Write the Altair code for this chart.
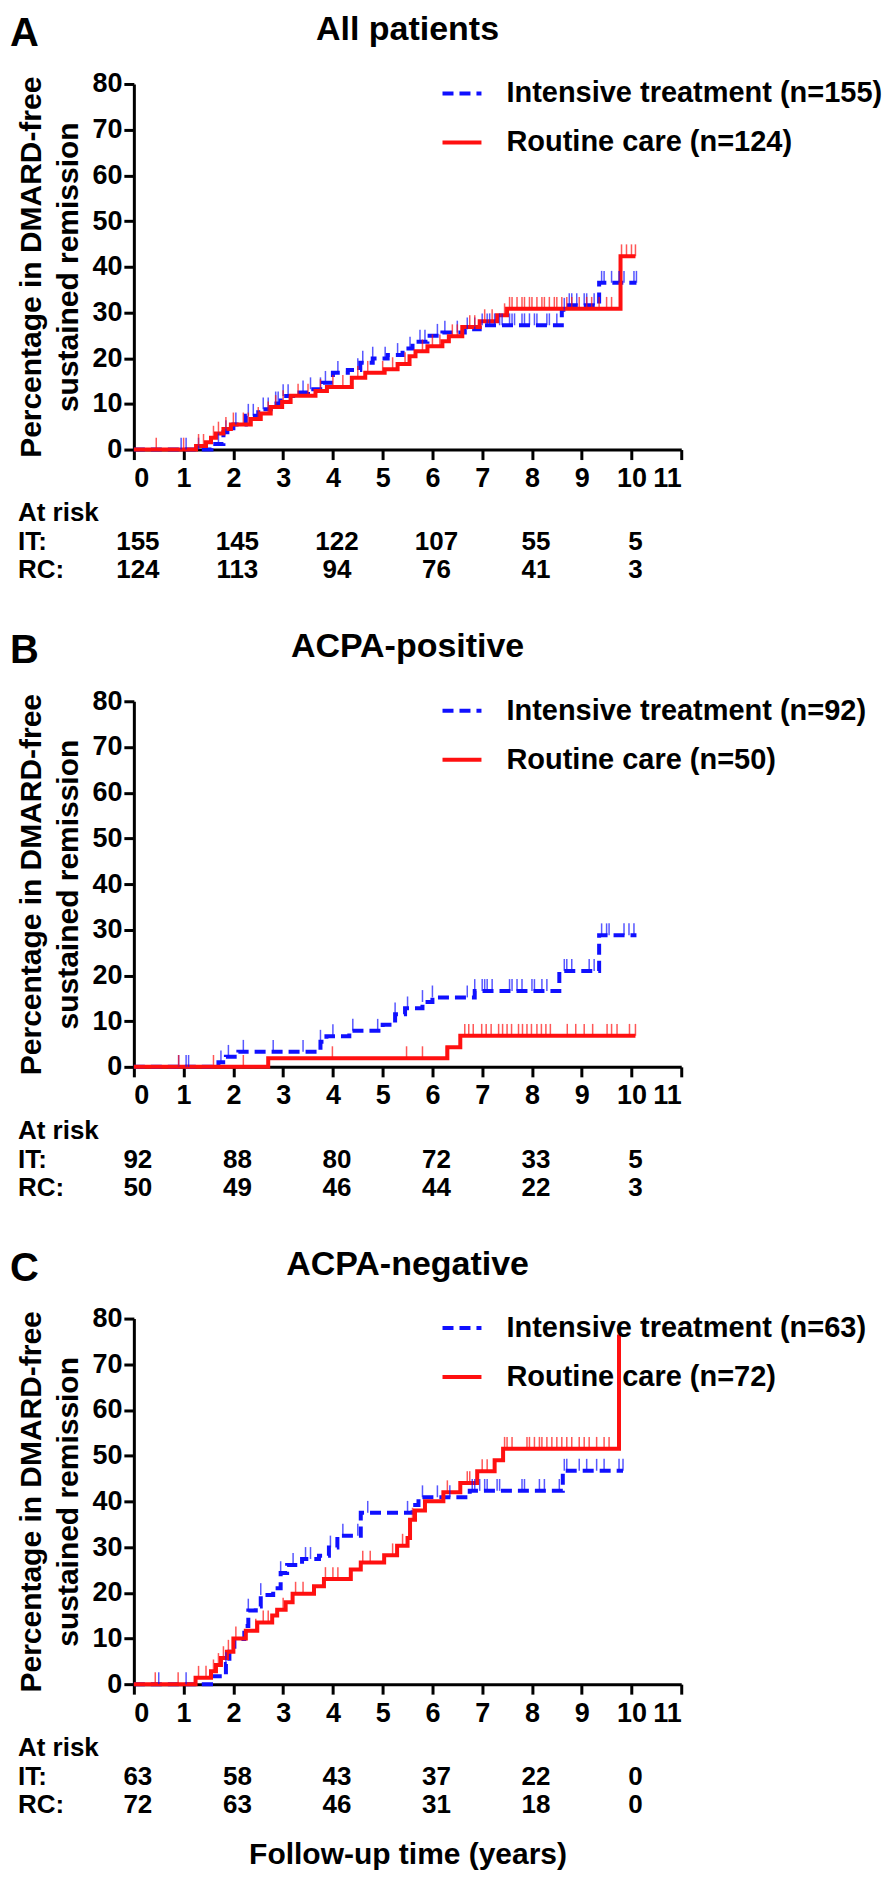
import altair as alt
import pandas as pd

FONT = "Liberation Sans"
BLUE = "#1010ff"
RED = "#ff1010"

RISK_T = [0, 2, 4, 6, 8, 10]

# ---------------- Panel A : All patients ----------------
A_IT_T = [0, 1.56, 1.80, 2.00, 2.25, 2.50, 2.75, 2.95, 3.25, 3.50, 3.80, 4.00, 4.30, 4.55, 4.80, 5.10,
          5.40, 5.60, 5.90, 6.20, 6.65, 6.95, 8.60, 8.70, 9.35, 10.10]
A_IT_V = [0, 1.2, 3.8, 5.5, 7.4, 8.8, 10.1, 11.7, 12.5, 13.2, 14.6, 16.8, 17.4, 19.0, 19.9, 20.7,
          22.1, 23.6, 24.9, 25.6, 26.3, 27.2, 30.6, 31.6, 36.5, 36.5]
A_RC_T = [0, 1.25, 1.45, 1.55, 1.65, 1.80, 1.95, 2.35, 2.55, 2.75, 2.98, 3.15, 3.65, 3.88, 4.38, 4.65,
          5.04, 5.30, 5.54, 5.66, 5.90, 6.20, 6.33, 6.60, 6.95, 7.30, 7.50, 9.78, 10.08]
A_RC_V = [0, 0.8, 1.6, 2.6, 3.5, 4.5, 5.5, 6.7, 7.9, 9.3, 10.4, 11.8, 12.8, 13.7, 15.7, 16.8,
          17.6, 18.7, 20.4, 21.5, 22.6, 23.7, 24.8, 26.8, 28.1, 29.4, 30.8, 42.3, 42.3]
A_IT_CENS = [0.95, 1.05, 1.3, 1.7, 1.85, 2.05, 2.3, 2.4, 2.6, 2.7, 2.85, 2.9, 3.0, 3.1, 3.4, 3.55, 3.75,
             3.85, 4.1, 4.5, 4.6, 4.8, 5.05, 5.3, 5.55, 5.75, 5.85, 6.1, 6.25, 6.5, 6.7, 6.85, 7.0, 7.1,
             7.15, 7.25, 7.35, 7.4, 7.55, 7.6, 7.65, 7.8, 7.85, 7.95, 8.05, 8.1, 8.3, 8.35, 8.5, 8.65,
             8.75, 8.8, 8.9, 9.05, 9.1, 9.25, 9.4, 9.45, 9.6, 9.75, 9.85, 10.05, 10.1]
A_RC_CENS = [0.45, 1.0, 1.3, 1.4, 1.6, 1.7, 1.85, 2.0, 2.2, 2.3, 2.5, 2.7, 2.85, 3.0, 3.3, 3.5, 3.75,
             4.0, 4.2, 4.5, 4.7, 5.0, 5.2, 5.45, 5.8, 6.0, 6.15, 6.4, 6.5, 6.75, 6.85, 7.05, 7.2, 7.45,
             7.55, 7.6, 7.7, 7.8, 7.85, 7.95, 8.0, 8.1, 8.2, 8.25, 8.35, 8.45, 8.5, 8.6, 8.7, 8.8, 8.95,
             9.1, 9.2, 9.35, 9.5, 9.6, 9.8, 9.9, 10.0, 10.08]
A_RISK_IT = [155, 145, 122, 107, 55, 5]
A_RISK_RC = [124, 113, 94, 76, 41, 3]

# ---------------- Panel B : ACPA-positive ----------------
B_IT_T = [0, 1.70, 1.85, 2.10, 3.75, 3.87, 4.33, 5.00, 5.25, 5.45, 5.80, 6.00, 6.85, 8.55, 9.35, 10.10]
B_IT_V = [0, 1.0, 2.2, 3.3, 5.5, 6.7, 7.9, 9.2, 11.5, 12.8, 14.2, 15.2, 16.6, 21.0, 28.8, 28.8]
B_RC_T = [0, 2.70, 6.30, 6.56, 10.08]
B_RC_V = [0, 1.9, 4.3, 6.8, 6.8]
B_IT_CENS = [0.9, 1.05, 1.1, 1.75, 1.9, 2.2, 2.8, 3.4, 3.75, 4.0, 4.4, 4.9, 5.25, 5.5, 5.8, 6.0, 6.7,
             6.85, 7.0, 7.05, 7.1, 7.2, 7.55, 7.6, 7.7, 7.8, 8.0, 8.05, 8.2, 8.3, 8.65, 8.7, 8.8, 9.15,
             9.25, 9.4, 9.5, 9.55, 9.85, 9.95, 10.05]
B_RC_CENS = [0.9, 1.6, 2.2, 3.99, 5.48, 5.8, 6.28, 6.65, 6.73, 6.82, 6.99, 7.08, 7.18, 7.33, 7.41, 7.5,
             7.59, 7.73, 7.81, 7.9, 7.99, 8.1, 8.19, 8.28, 8.37, 8.71, 8.88, 9.05, 9.22, 9.51, 9.6,
             9.71, 9.96, 10.08]
B_RISK_IT = [92, 88, 80, 72, 33, 5]
B_RISK_RC = [50, 49, 46, 44, 22, 3]

# ---------------- Panel C : ACPA-negative ----------------
C_IT_T = [0, 1.55, 1.85, 1.92, 2.02, 2.22, 2.30, 2.45, 2.55, 2.80, 2.95, 3.08, 3.38, 3.72, 3.92, 4.09,
          4.56, 5.60, 5.72, 6.75, 8.62, 9.83]
C_IT_V = [0, 1.75, 4.4, 7.7, 9.9, 12.7, 16.1, 17.0, 19.5, 21.0, 24.3, 26.1, 27.4, 28.1, 29.9, 32.5,
          37.5, 39.2, 40.9, 42.3, 46.7, 46.7]
C_RC_T = [0, 1.24, 1.55, 1.65, 1.75, 1.87, 2.00, 2.25, 2.48, 2.78, 2.88, 3.05, 3.19, 3.62, 3.82, 4.36,
          4.56, 5.03, 5.29, 5.50, 5.55, 5.65, 5.85, 6.22, 6.56, 6.90, 7.25, 7.42, 9.75]
C_RC_V = [0, 1.4, 2.8, 4.2, 5.7, 7.1, 10.0, 11.7, 13.5, 15.0, 16.3, 17.9, 19.8, 21.4, 23.0, 25.1,
          26.6, 28.2, 30.3, 32.0, 36.0, 38.0, 40.0, 42.0, 44.0, 46.6, 49.0, 51.5, 76.5]
C_IT_CENS = [0.5, 1.05, 1.85, 2.3, 2.55, 2.95, 3.2, 3.45, 3.55, 3.95, 4.2, 4.5, 4.7, 5.5, 5.8, 6.1,
             6.35, 6.8, 6.85, 6.95, 7.05, 7.1, 7.3, 7.35, 7.8, 7.85, 8.15, 8.25, 8.55, 8.65, 8.7, 8.95,
             9.1, 9.3, 9.45, 9.75, 9.83]
C_RC_CENS = [0.43, 0.89, 1.3, 1.45, 1.6, 1.7, 1.8, 1.9, 2.05, 2.45, 2.6, 2.7, 3.0, 3.25, 3.4, 3.85,
             4.0, 4.1, 4.6, 4.75, 5.2, 5.4, 5.6, 6.3, 6.7, 6.75, 7.0, 7.1, 7.45, 7.5, 7.6, 7.9, 7.95,
             8.05, 8.15, 8.2, 8.3, 8.4, 8.5, 8.6, 8.7, 8.8, 8.95, 9.05, 9.15, 9.3, 9.45, 9.55]
C_RISK_IT = [63, 58, 43, 37, 22, 0]
C_RISK_RC = [72, 63, 46, 31, 18, 0]

W, H = 548, 366


def step_at(ts, vs, t):
    v = vs[0]
    for a, b in zip(ts, vs):
        if a <= t:
            v = b
    return v


def panel(letter, title, it_label, rc_label, it_t, it_v, rc_t, rc_v, it_c, rc_c,
          risk_it, risk_rc, xtitle=None):
    dom = [it_label, rc_label]
    lines = pd.DataFrame({
        "t": list(it_t) + list(rc_t),
        "pct": list(it_v) + list(rc_v),
        "grp": [it_label] * len(it_t) + [rc_label] * len(rc_t),
    })
    cens = pd.DataFrame({
        "t": list(it_c) + list(rc_c),
        "pct": [step_at(it_t, it_v, t) for t in it_c] + [step_at(rc_t, rc_v, t) for t in rc_c],
        "grp": [it_label] * len(it_c) + [rc_label] * len(rc_c),
    })

    leg = alt.Legend(orient="none", legendX=307, legendY=-12, title=None,
                     labelFont=FONT, labelFontSize=29, labelFontWeight="bold",
                     labelColor="black", labelLimit=700, labelOffset=23,
                     symbolSize=1521, symbolStrokeWidth=4, rowPadding=12,
                     symbolType="stroke")
    xaxis = alt.Axis(values=list(range(0, 12)), title=xtitle if xtitle else None,
                     titlePadding=114, titleFontSize=30, titleFont=FONT,
                     titleFontWeight="bold", titleColor="black")
    yaxis = alt.Axis(values=list(range(0, 81, 10)),
                     title=["Percentage in DMARD-free", "sustained remission"],
                     titleFontSize=30, titleFont=FONT, titleFontWeight="bold",
                     titleColor="black", titleLineHeight=37, titlePadding=8)
    xs = alt.Scale(domain=[0, 11], nice=False)
    ys = alt.Scale(domain=[0, 80], nice=False)

    color_scale = alt.Scale(domain=dom, range=[BLUE, RED])
    line = alt.Chart(lines).mark_line(interpolate="step-after", strokeWidth=4).encode(
        x=alt.X("t:Q", scale=xs, axis=xaxis),
        y=alt.Y("pct:Q", scale=ys, axis=yaxis),
        color=alt.Color("grp:N", scale=color_scale, legend=leg),
        strokeDash=alt.StrokeDash("grp:N", scale=alt.Scale(domain=dom, range=[[11, 6], [1, 0]]),
                                  legend=leg),
    )
    ticks = alt.Chart(cens).transform_calculate(top="datum.pct + 2.6").mark_rule(
        strokeWidth=1.5, opacity=0.7).encode(
        x="t:Q", y="pct:Q", y2="top:Q",
        color=alt.Color("grp:N", scale=color_scale, legend=None),
    )
    risk = pd.DataFrame({"t": RISK_T, "it": risk_it, "rc": risk_rc})
    txt = dict(font=FONT, fontSize=26, fontWeight="bold", color="black",
               baseline="alphabetic")
    r_it = alt.Chart(risk).mark_text(align="center", dx=4, **txt).encode(
        x="t:Q", y=alt.value(H + 101), text="it:Q")
    r_rc = alt.Chart(risk).mark_text(align="center", dx=4, **txt).encode(
        x="t:Q", y=alt.value(H + 129), text="rc:Q")
    one = pd.DataFrame({"k": [0]})
    lab1 = alt.Chart(one).mark_text(align="left", text="At risk", **txt).encode(
        x=alt.value(-116), y=alt.value(H + 72))
    lab2 = alt.Chart(one).mark_text(align="left", text="IT:", **txt).encode(
        x=alt.value(-116), y=alt.value(H + 101))
    lab3 = alt.Chart(one).mark_text(align="left", text="RC:", **txt).encode(
        x=alt.value(-116), y=alt.value(H + 129))
    head = alt.Chart(one).mark_text(align="center", text=title, font=FONT, fontSize=34,
                                    fontWeight="bold", color="black",
                                    baseline="alphabetic").encode(
        x=alt.value(W / 2), y=alt.value(-44))
    let = alt.Chart(one).mark_text(align="left", text=letter, font=FONT, fontSize=40,
                                   fontWeight="bold", color="black",
                                   baseline="alphabetic").encode(
        x=alt.value(-124), y=alt.value(-38))
    return alt.layer(line, ticks, r_it, r_rc, lab1, lab2, lab3, head, let).properties(
        width=W, height=H)


pA = panel("A", "All patients", "Intensive treatment (n=155)", "Routine care (n=124)",
           A_IT_T, A_IT_V, A_RC_T, A_RC_V, A_IT_CENS, A_RC_CENS, A_RISK_IT, A_RISK_RC)
pB = panel("B", "ACPA-positive", "Intensive treatment (n=92)", "Routine care (n=50)",
           B_IT_T, B_IT_V, B_RC_T, B_RC_V, B_IT_CENS, B_RC_CENS, B_RISK_IT, B_RISK_RC)
pC = panel("C", "ACPA-negative", "Intensive treatment (n=63)", "Routine care (n=72)",
           C_IT_T, C_IT_V, C_RC_T, C_RC_V, C_IT_CENS, C_RC_CENS, C_RISK_IT, C_RISK_RC,
           xtitle="Follow-up time (years)")

chart = alt.vconcat(pA, pB, pC, spacing=252, bounds="flush").resolve_scale(
    color="independent", strokeDash="independent"
).resolve_legend(color="independent", strokeDash="independent").properties(
    padding={"left": 2, "top": 4, "right": 5, "bottom": 0}
).configure_view(stroke=None).configure_axis(
    grid=False, domainColor="black", domainWidth=3, tickColor="black", tickWidth=3,
    tickSize=10, labelFont=FONT, labelFontSize=27, labelFontWeight="bold",
    labelColor="black", labelPadding=4,
).configure_axisX(labelPadding=6).configure_axisY(labelPadding=2)

chart.save("out.html", embed_options={"renderer": "svg", "actions": False})
